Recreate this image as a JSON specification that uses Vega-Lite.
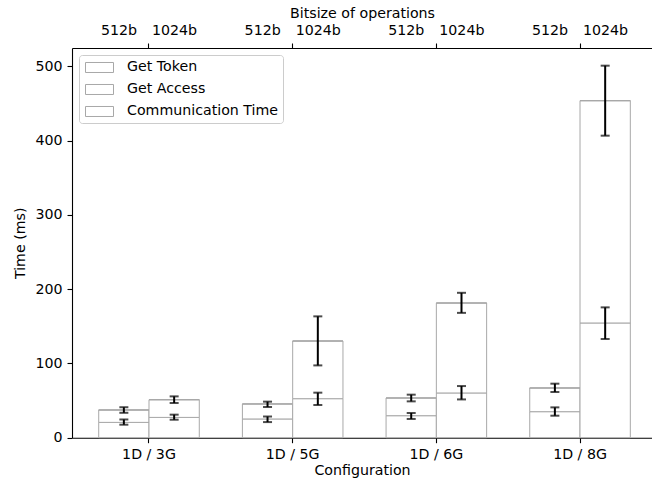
{
  "$schema": "https://vega.github.io/schema/vega-lite/v6.json",
  "autosize": {"type": "none"},
  "width": 580,
  "height": 389.7,
  "padding": {"left": 72, "top": 48, "right": 0, "bottom": 45},
  "background": "white",
  "config": {
    "font": "DejaVu Sans",
    "view": {"stroke": null},
    "axis": {
      "labelFont": "DejaVu Sans", "titleFont": "DejaVu Sans",
      "labelFontSize": 14.2, "titleFontSize": 14.2,
      "labelColor": "black", "titleColor": "black", "titleFontWeight": "normal",
      "domainColor": "black", "tickColor": "black", "domainWidth": 1.1, "tickWidth": 1.1,
      "tickSize": 5, "labelPadding": 4, "grid": false
    },
    "legend": {
      "labelFont": "DejaVu Sans", "labelFontSize": 14.2, "labelColor": "black"
    }
  },
  "datasets": {
    "bars": [
      {"config": "1D / 3G", "size": "512b", "component": "Get Token", "value": 20.6},
      {"config": "1D / 3G", "size": "512b", "component": "Get Access", "value": 16.7},
      {"config": "1D / 3G", "size": "512b", "component": "Communication Time", "value": 0},
      {"config": "1D / 3G", "size": "1024b", "component": "Get Token", "value": 27.3},
      {"config": "1D / 3G", "size": "1024b", "component": "Get Access", "value": 23.8},
      {"config": "1D / 3G", "size": "1024b", "component": "Communication Time", "value": 0},
      {"config": "1D / 5G", "size": "512b", "component": "Get Token", "value": 25.2},
      {"config": "1D / 5G", "size": "512b", "component": "Get Access", "value": 20.2},
      {"config": "1D / 5G", "size": "512b", "component": "Communication Time", "value": 0},
      {"config": "1D / 5G", "size": "1024b", "component": "Get Token", "value": 52.5},
      {"config": "1D / 5G", "size": "1024b", "component": "Get Access", "value": 77.6},
      {"config": "1D / 5G", "size": "1024b", "component": "Communication Time", "value": 0},
      {"config": "1D / 6G", "size": "512b", "component": "Get Token", "value": 29.6},
      {"config": "1D / 6G", "size": "512b", "component": "Get Access", "value": 23.8},
      {"config": "1D / 6G", "size": "512b", "component": "Communication Time", "value": 0},
      {"config": "1D / 6G", "size": "1024b", "component": "Get Token", "value": 60.2},
      {"config": "1D / 6G", "size": "1024b", "component": "Get Access", "value": 121.1},
      {"config": "1D / 6G", "size": "1024b", "component": "Communication Time", "value": 0},
      {"config": "1D / 8G", "size": "512b", "component": "Get Token", "value": 35.0},
      {"config": "1D / 8G", "size": "512b", "component": "Get Access", "value": 31.9},
      {"config": "1D / 8G", "size": "512b", "component": "Communication Time", "value": 0},
      {"config": "1D / 8G", "size": "1024b", "component": "Get Token", "value": 154.4},
      {"config": "1D / 8G", "size": "1024b", "component": "Get Access", "value": 299.2},
      {"config": "1D / 8G", "size": "1024b", "component": "Communication Time", "value": 0}
    ],
    "err": [
      {"config": "1D / 3G", "size": "512b", "part": "token", "lo": 17.5, "hi": 24.5},
      {"config": "1D / 3G", "size": "512b", "part": "total", "lo": 33.5, "hi": 41.0},
      {"config": "1D / 3G", "size": "1024b", "part": "token", "lo": 24.2, "hi": 31.0},
      {"config": "1D / 3G", "size": "1024b", "part": "total", "lo": 46.7, "hi": 55.6},
      {"config": "1D / 5G", "size": "512b", "part": "token", "lo": 21.0, "hi": 28.5},
      {"config": "1D / 5G", "size": "512b", "part": "total", "lo": 41.3, "hi": 48.5},
      {"config": "1D / 5G", "size": "1024b", "part": "token", "lo": 44.0, "hi": 60.6},
      {"config": "1D / 5G", "size": "1024b", "part": "total", "lo": 97.3, "hi": 163.3},
      {"config": "1D / 6G", "size": "512b", "part": "token", "lo": 25.2, "hi": 33.2},
      {"config": "1D / 6G", "size": "512b", "part": "total", "lo": 48.9, "hi": 57.9},
      {"config": "1D / 6G", "size": "1024b", "part": "token", "lo": 51.5, "hi": 69.5},
      {"config": "1D / 6G", "size": "1024b", "part": "total", "lo": 168.0, "hi": 195.0},
      {"config": "1D / 8G", "size": "512b", "part": "token", "lo": 29.6, "hi": 40.8},
      {"config": "1D / 8G", "size": "512b", "part": "total", "lo": 61.5, "hi": 72.7},
      {"config": "1D / 8G", "size": "1024b", "part": "token", "lo": 132.8, "hi": 175.4},
      {"config": "1D / 8G", "size": "1024b", "part": "total", "lo": 406.5, "hi": 500.7}
    ]
  },
  "layer": [
    {
      "data": {"name": "bars"},
      "mark": {"type": "bar", "stroke": "#a8a8a8", "strokeWidth": 1},
      "encoding": {
        "x": {
          "field": "config", "type": "nominal", "sort": ["1D / 3G", "1D / 5G", "1D / 6G", "1D / 8G"],
          "scale": {"paddingInner": 0.3, "paddingOuter": 0.1684, "align": 0.552},
          "axis": {"orient": "bottom", "title": "Configuration", "labelAngle": 0, "labelPadding": 5, "titlePadding": 2}
        },
        "xOffset": {
          "field": "size", "type": "nominal", "sort": ["512b", "1024b"],
          "scale": {"paddingInner": 0, "paddingOuter": 0}
        },
        "y": {
          "field": "value", "type": "quantitative", "aggregate": "sum", "stack": "zero",
          "scale": {"domain": [0, 524.5], "nice": false, "zero": true},
          "axis": {"title": "Time (ms)", "values": [0, 100, 200, 300, 400, 500], "labelPadding": 5, "titlePadding": 7}
        },
        "fill": {
          "field": "component", "type": "nominal",
          "scale": {"domain": ["Get Token", "Get Access", "Communication Time"], "range": ["white", "white", "white"]},
          "legend": {
            "title": null, "orient": "top-left", "offset": 7, "padding": 4,
            "strokeColor": "#cccccc", "cornerRadius": 3, "fillColor": "white",
            "symbolType": "M-1.75,-0.625H1.75V0.625H-1.75Z", "symbolSize": 256,
            "symbolStrokeColor": "#a8a8a8", "symbolStrokeWidth": 1, "symbolOffset": 8,
            "labelOffset": 19, "rowPadding": 6
          }
        },
        "order": {"field": "component", "sort": "descending"}
      }
    },
    {
      "data": {"name": "err"},
      "mark": {"type": "rule", "color": "black", "strokeWidth": 2},
      "encoding": {
        "x": {
          "field": "config", "type": "nominal", "sort": ["1D / 3G", "1D / 5G", "1D / 6G", "1D / 8G"],
          "axis": {"orient": "top", "title": "Bitsize of operations", "labelExpr": "'512b\u00a0\u00a0\u00a0\u200a1024b'", "labelAngle": 0, "labelPadding": 5, "titlePadding": 3}
        },
        "xOffset": {"field": "size", "type": "nominal", "sort": ["512b", "1024b"]},
        "y": {"field": "lo", "type": "quantitative", "axis": null, "scale": {"domain": [0, 524.5], "nice": false}},
        "y2": {"field": "hi"}
      }
    },
    {
      "data": {"name": "err"},
      "mark": {"type": "tick", "color": "black", "size": 9, "thickness": 2},
      "encoding": {
        "x": {"field": "config", "type": "nominal", "sort": ["1D / 3G", "1D / 5G", "1D / 6G", "1D / 8G"], "axis": null},
        "xOffset": {"field": "size", "type": "nominal", "sort": ["512b", "1024b"]},
        "y": {"field": "lo", "type": "quantitative", "axis": null, "scale": {"domain": [0, 524.5], "nice": false}}
      }
    },
    {
      "data": {"name": "err"},
      "mark": {"type": "tick", "color": "black", "size": 9, "thickness": 2},
      "encoding": {
        "x": {"field": "config", "type": "nominal", "sort": ["1D / 3G", "1D / 5G", "1D / 6G", "1D / 8G"], "axis": null},
        "xOffset": {"field": "size", "type": "nominal", "sort": ["512b", "1024b"]},
        "y": {"field": "hi", "type": "quantitative", "axis": null, "scale": {"domain": [0, 524.5], "nice": false}}
      }
    }
  ],
  "resolve": {"axis": {"x": "independent", "y": "independent"}}
}
